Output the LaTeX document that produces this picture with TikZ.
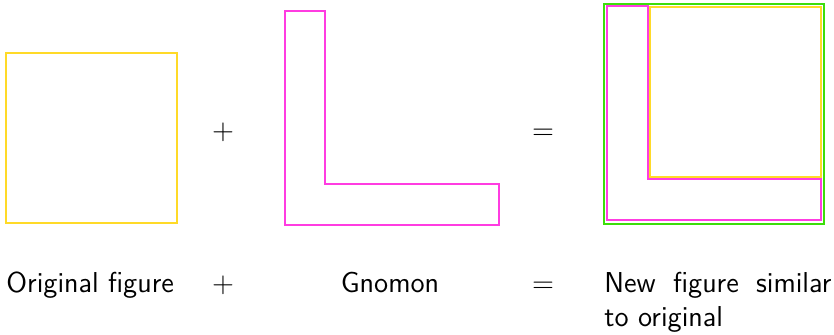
\documentclass[tikz,border=0pt]{standalone}
\usepackage{tikz}

\definecolor{figyellow}{RGB}{255,218,40}
\definecolor{figmagenta}{RGB}{255,60,225}
\definecolor{figgreen}{RGB}{60,222,10}

\begin{document}
\begin{tikzpicture}[
    x=0.5pt, y=-0.5pt,
    font=\sffamily\fontsize{14.4}{17}\selectfont,
    origsq/.style={draw=figyellow, line width=0.6pt},
    gnomonl/.style={draw=figmagenta, line width=0.6pt},
    newsq/.style={draw=figgreen, line width=0.6pt},
    caption/.style={inner sep=0pt, anchor=base west},
    sign/.style={inner sep=0pt, anchor=base}
]
\useasboundingbox (0,0) rectangle (834,334);
% original square
\draw[origsq] (6,53) rectangle (177,223);
\node[sign] (plusa) at (223,139) {$+$};
% gnomon
\draw[gnomonl] (285,11) -- (325,11) -- (325,184) -- (499,184) -- (499,225) -- (285,225) -- cycle;
\node[sign] (eqa) at (543,139) {$=$};
% new figure = square + gnomon
\draw[newsq] (604,4) rectangle (824,224);
\draw[gnomonl] (607,6) -- (648,6) -- (648,179) -- (821,179) -- (821,220) -- (607,220) -- cycle;
\draw[origsq] (650,7) rectangle (821,177);
% captions
\node[caption] (origtext) at (6,292) {Original figure};
\node[sign] (plusb) at (223,292) {$+$};
\node[sign] (gnomontext) at (390,292) {Gnomon};
\node[sign] (eqb) at (543,292) {$=$};
\node[caption, text width=113.5pt, align=justify] (newtext) at (604,292) {New figure similar to original};
\end{tikzpicture}
\end{document}
